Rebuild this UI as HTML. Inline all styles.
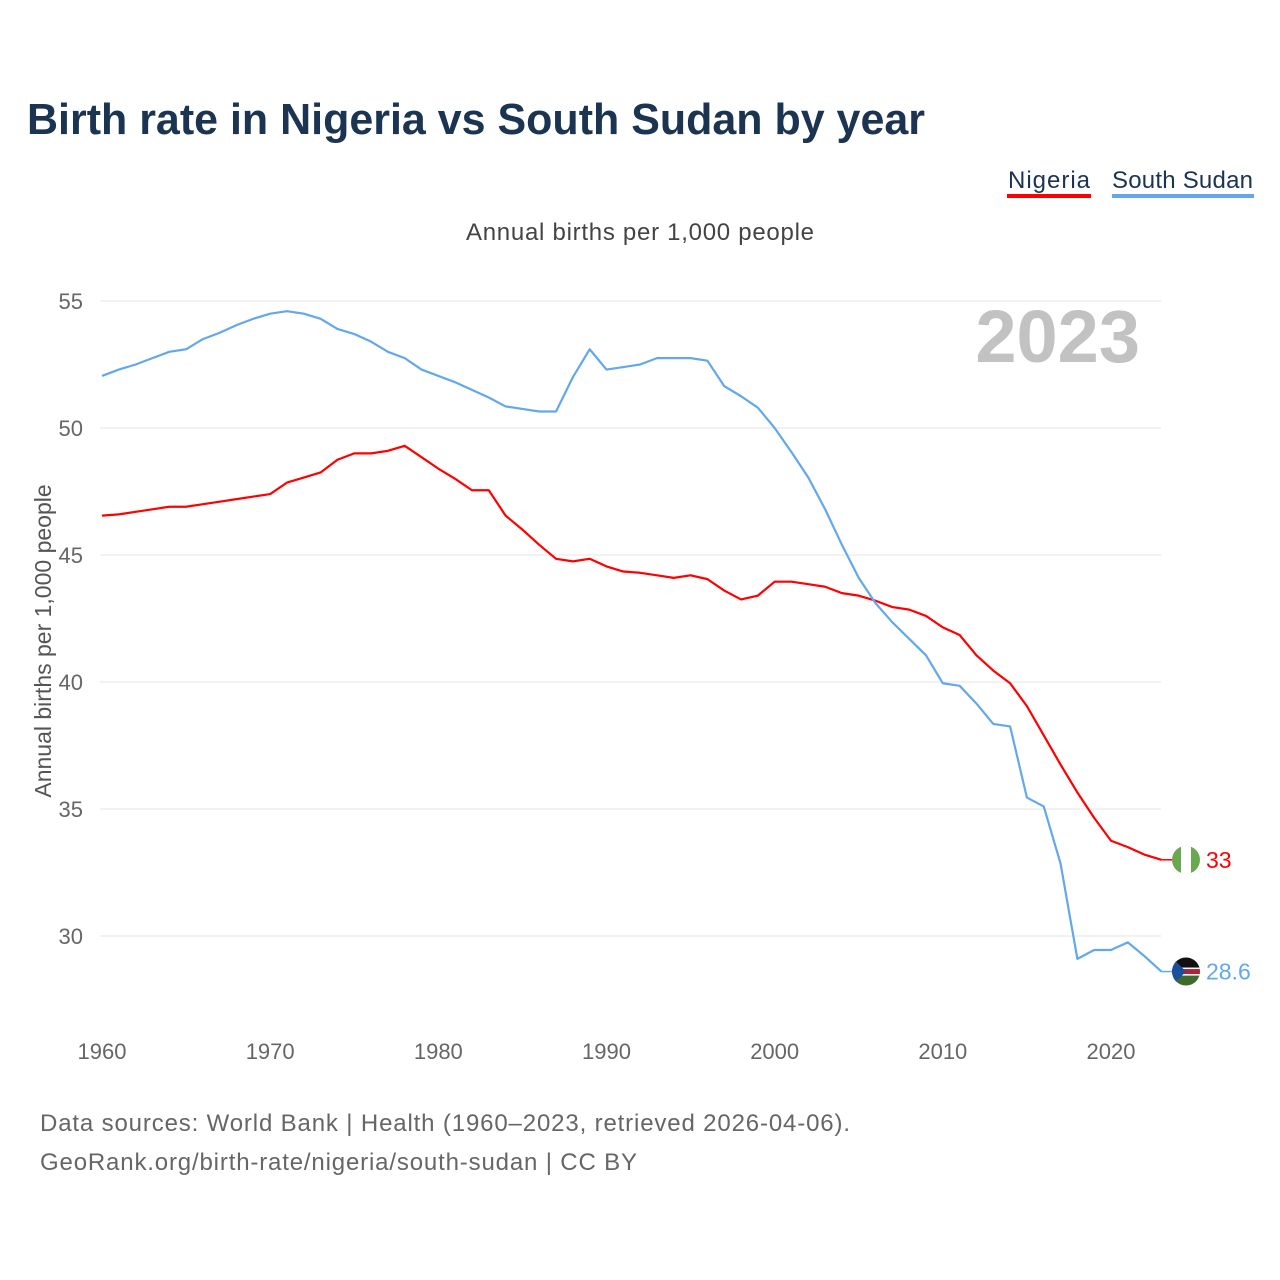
<!DOCTYPE html>
<html><head><meta charset="utf-8"><style>
body{margin:0;background:#fff;font-family:"Liberation Sans",sans-serif}
</style></head><body>
<svg width="1280" height="1280" viewBox="0 0 1280 1280" id="chart" style="display:block">
<defs><clipPath id="c1"><circle cx="1186" cy="0" r="14"/></clipPath></defs>
<text x="27" y="134" font-size="44" font-weight="bold" fill="#1b3452" textLength="898" lengthAdjust="spacingAndGlyphs">Birth rate in Nigeria vs South Sudan by year</text>
<g>
<text x="1008" y="188" font-size="24" fill="#1b3452" textLength="82">Nigeria</text>
<rect x="1007" y="194" width="84" height="4" fill="#ff0000"/>
<text x="1112" y="188" font-size="24" fill="#1b3452" textLength="141">South Sudan</text>
<rect x="1112" y="194" width="142" height="4" fill="#62a8ea"/>
</g>
<text x="466" y="240" font-size="24" fill="#444" textLength="348">Annual births per 1,000 people</text>
<text x="1140" y="362" font-size="74" font-weight="bold" fill="#c2c2c2" text-anchor="end">2023</text>
<text transform="translate(51,641) rotate(-90)" font-size="23" fill="#555" text-anchor="middle">Annual births per 1,000 people</text>
<g id="grid"></g><g id="xt"></g><g id="lines"></g>
<text x="40" y="1131" font-size="24" fill="#666" textLength="810">Data sources: World Bank | Health (1960–2023, retrieved 2026-04-06).</text>
<text x="40" y="1170" font-size="24" fill="#666" textLength="597">GeoRank.org/birth-rate/nigeria/south-sudan | CC BY</text>
</svg>
<script>
const years=[];for(let y=1960;y<=2023;y++)years.push(y);
const nigeria=[46.55,46.6,46.7,46.8,46.9,46.9,47.0,47.1,47.2,47.3,47.4,47.85,48.05,48.25,48.75,49.0,49.0,49.1,49.3,48.85,48.4,48.0,47.55,47.55,46.55,46.0,45.4,44.85,44.75,44.85,44.55,44.35,44.3,44.2,44.1,44.2,44.05,43.6,43.25,43.4,43.95,43.95,43.85,43.75,43.5,43.4,43.2,42.95,42.85,42.6,42.15,41.85,41.05,40.45,39.95,39.05,37.9,36.75,35.65,34.65,33.75,33.5,33.2,33.0];
const southSudan=[52.05,52.3,52.5,52.75,53.0,53.1,53.5,53.75,54.05,54.3,54.5,54.6,54.5,54.3,53.9,53.7,53.4,53.0,52.75,52.3,52.05,51.8,51.5,51.2,50.85,50.75,50.65,50.65,52.0,53.1,52.3,52.4,52.5,52.75,52.75,52.75,52.65,51.65,51.25,50.8,50.0,49.05,48.05,46.8,45.4,44.1,43.1,42.35,41.7,41.05,39.95,39.85,39.15,38.35,38.25,35.45,35.1,32.85,29.1,29.45,29.45,29.75,29.2,28.6];
const yTicks=[30,35,40,45,50,55];
const xTicks=[1960,1970,1980,1990,2000,2010,2020];
const endLabels=["33","28.6"];
const NS="http://www.w3.org/2000/svg";
const X=y=>102+(y-1960)*1009/60, Y=v=>301+(55-v)*25.4;
function mk(t,a,p){const e=document.createElementNS(NS,t);for(const k in a)e.setAttribute(k,a[k]);p.appendChild(e);return e;}
const g=document.getElementById('grid');
yTicks.forEach(v=>{const l=mk('line',{x1:100,x2:1161,y1:Y(v),y2:Y(v),stroke:'#e6e6e6','stroke-width':1},g);


const t=mk('text',{x:83,y:Y(v)+8,'font-size':22,fill:'#666','text-anchor':'end'},g);t.textContent=v;

});
const xt=document.getElementById('xt');
xTicks.forEach(v=>{const t=mk('text',{x:X(v),y:1059,'font-size':22,fill:'#666','text-anchor':'middle'},xt);t.textContent=v;

});
const L=document.getElementById('lines');
[[nigeria,'#ff0000','nigeria'],[southSudan,'#62a8ea','south-sudan']].forEach(([d,c,n],i)=>{
const p=mk('polyline',{points:d.map((v,j)=>X(years[j])+','+Y(v)).join(' '),fill:'none',stroke:c,'stroke-width':2.2,'stroke-linejoin':'round'},L);


const last=d[d.length-1],ly=Y(last);
mk('line',{x1:X(2023),x2:1175,y1:ly,y2:ly,stroke:c,'stroke-width':1.5},L);
const fg=mk('g',{transform:'translate(0,'+ly+')','clip-path':'url(#c1)'},L);


if(i==0){mk('rect',{x:1172,y:-14,width:28,height:28,fill:'#6aa84f'},fg);mk('rect',{x:1181,y:-14,width:10,height:28,fill:'#fff'},fg);}
else{mk('rect',{x:1172,y:-14,width:28,height:28,fill:'#3d6b2e'},fg);mk('rect',{x:1172,y:-14,width:28,height:10,fill:'#111'},fg);mk('rect',{x:1172,y:-4,width:28,height:8,fill:'#fff'},fg);mk('rect',{x:1172,y:-2.5,width:28,height:5,fill:'#b22234'},fg);mk('polygon',{points:'1172,-14 1186,0 1172,14',fill:'#1a4fa0'},fg);}
const t=mk('text',{x:1206,y:ly+8,'font-size':23,fill:c},L);t.textContent=endLabels[i];


});
</script>
</body></html>
